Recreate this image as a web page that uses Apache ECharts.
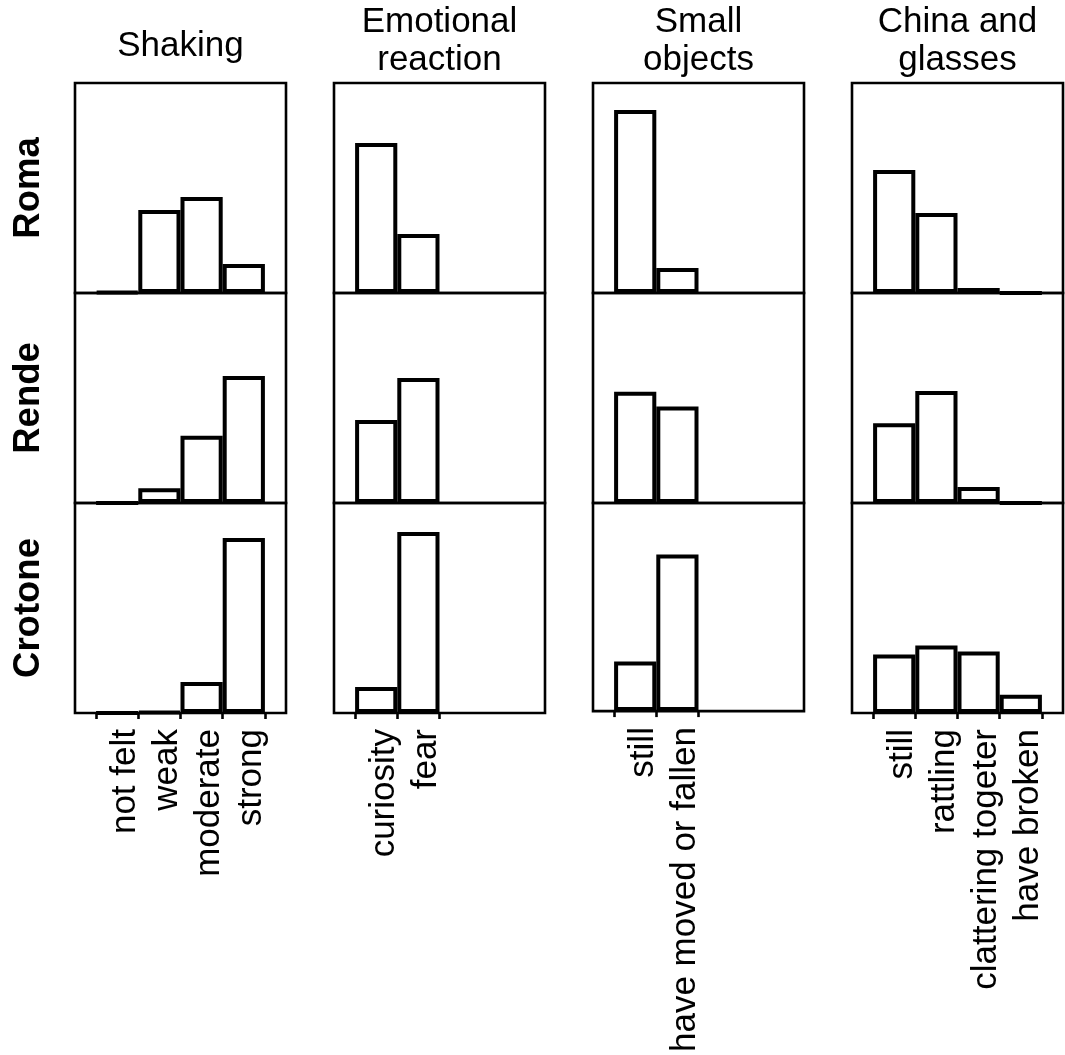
<!DOCTYPE html>
<html><head><meta charset="utf-8">
<script src="https://cdn.jsdelivr.net/npm/echarts@6/dist/echarts.min.js"></script>
<style>html,body{margin:0;padding:0;background:#fff}#c{width:1065px;height:1055px}</style>
</head><body><div id="c"></div>
<script>
// ---- data ----
const cities = ['Roma', 'Rende', 'Crotone'];
const panelTitles = ['Shaking', 'Emotional\nreaction', 'Small\nobjects', 'China and\nglasses'];

const shakingCats = ['not felt', 'weak', 'moderate', 'strong'];
const emotionCats = ['curiosity', 'fear'];
const objectsCats = ['still', 'have moved or fallen'];
const chinaCats = ['still', 'rattling', 'clattering togeter', 'have broken'];

// rows: Roma, Rende, Crotone (proportions)
const shakingValues = [
  [0.005, 0.395, 0.457, 0.138],
  [0.0, 0.07, 0.32, 0.605],
  [0.0, 0.005, 0.148, 0.833]
];
const emotionValues = [
  [0.714, 0.281],
  [0.395, 0.595],
  [0.124, 0.862]
];
const objectsValues = [
  [0.871, 0.119],
  [0.53, 0.46],
  [0.238, 0.752]
];
const chinaValues = [
  [0.586, 0.381, 0.024, 0.0],
  [0.38, 0.533, 0.076, 0.0],
  [0.278, 0.322, 0.293, 0.087]
];

const panelCats = [shakingCats, emotionCats, objectsCats, chinaCats];
const panelValues = [shakingValues, emotionValues, objectsValues, chinaValues];

// ---- layout / style ----
const FONT = '"Liberation Sans", Arial, Helvetica, sans-serif';
const PL = 75, PSTEP = 259, PW = 211, PT = 83, PH = 210;
const unitPx = PW / 5;

const grid = [], xAxis = [], yAxis = [], series = [];
for (let r = 0; r < cities.length; r++) {
  for (let c = 0; c < panelCats.length; c++) {
    const idx = r * panelCats.length + c;
    const cats = panelCats[c];
    const vals = panelValues[c][r];
    const bottomRow = r === cities.length - 1;
    grid.push({
      left: PL + c * PSTEP, top: PT + r * PH, width: PW, height: PH,
      show: true, borderColor: '#000', borderWidth: 2.6, backgroundColor: 'transparent'
    });
    const tickVals = cats.map((_, i) => i - 0.5).concat([cats.length - 0.5]);
    xAxis.push({
      type: 'value', gridIndex: idx, min: -1, max: 4,
      axisLine: { show: false }, splitLine: { show: false },
      axisTick: { show: bottomRow, customValues: tickVals, length: 6, lineStyle: { color: '#000', width: 2.6 } },
      axisLabel: {
        show: bottomRow, customValues: cats.map((_, i) => i), rotate: 90,
        formatter: (v) => { const k = Math.round(v); return cats[k] !== undefined ? cats[k] : ''; },
        fontSize: 35, color: '#000', fontFamily: FONT, margin: 16,
        verticalAlign: 'top', lineHeight: 16
      }
    });
    yAxis.push({
      type: 'value', gridIndex: idx, min: 0, max: 1,
      axisLine: { show: false }, axisTick: { show: false }, axisLabel: { show: false }, splitLine: { show: false },
      name: c === 0 ? cities[r] : '', nameLocation: 'middle', nameRotate: 90, nameGap: 28,
      nameTextStyle: { fontSize: 36.5, fontWeight: 'bold', color: '#000', fontFamily: FONT }
    });
    series.push({
      type: 'bar', xAxisIndex: idx, yAxisIndex: idx,
      data: vals.map((v, i) => [i, v]),
      barWidth: unitPx,
      itemStyle: { color: '#fff', borderColor: '#000', borderWidth: 4 },
      silent: true
    });
  }
}

const graphic = panelTitles.map((t, c) => ({
  type: 'text',
  x: PL + c * PSTEP + PW / 2,
  y: t.indexOf('\n') >= 0 ? 41 : 46,
  style: {
    text: t, fill: '#000', fontSize: 35, fontFamily: FONT, lineHeight: 38,
    textAlign: 'center', textVerticalAlign: 'middle', align: 'center', verticalAlign: 'middle'
  }
}));

const chart = echarts.init(document.getElementById('c'), null, { renderer: 'canvas' });
chart.setOption({
  animation: false,
  backgroundColor: '#fff',
  grid, xAxis, yAxis, series, graphic
});
</script>
</body></html>
